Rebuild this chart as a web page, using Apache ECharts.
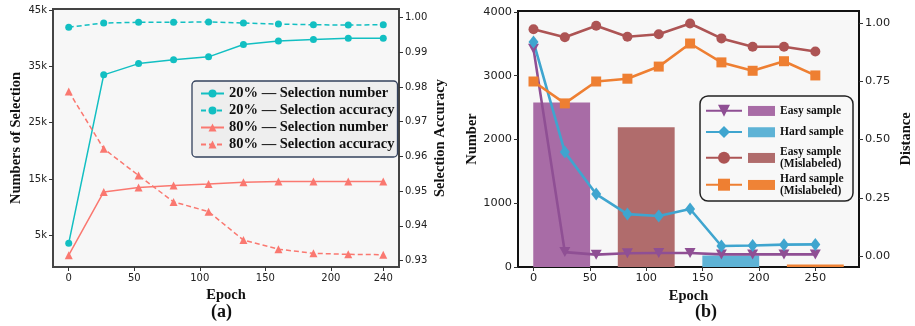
<!DOCTYPE html>
<html>
<head>
<meta charset="utf-8">
<script src="https://cdn.jsdelivr.net/npm/echarts@6/dist/echarts.min.js"></script>
<style>
    html, body { margin: 0; padding: 0; background: #fff; }
    #main { width: 915px; height: 326px; }
</style>
</head>
<body>
<div id="main"></div>
<script>
// (a) selection number / accuracy over epochs
var epochsA = [0, 26.7, 53.3, 80, 106.7, 133.3, 160, 186.7, 213.3, 240];
var num20 = [3600, 33500, 35500, 36200, 36700, 38900, 39500, 39800, 40000, 40000];
var acc20 = [0.9972, 0.9984, 0.9986, 0.9986, 0.9987, 0.9984, 0.9981, 0.9979, 0.9978, 0.9979];
var num80 = [1450, 12700, 13500, 13850, 14100, 14400, 14550, 14550, 14550, 14550];
var acc80 = [0.9787, 0.9622, 0.9545, 0.9469, 0.9441, 0.9359, 0.9333, 0.9321, 0.9318, 0.9317];
var xTicksA = [0, 50, 100, 150, 200, 240];
var yTicksA = [5000, 15000, 25000, 35000, 45000];
var accTicksA = [0.93, 0.94, 0.95, 0.96, 0.97, 0.98, 0.99, 1.00];

// (b) distance lines and sample count bars
var epochsB = [0, 27.8, 55.6, 83.3, 111.1, 138.9, 166.7, 194.4, 222.2, 250];
var distEasy = [0.889, 0.017, 0.006, 0.012, 0.013, 0.013, 0.007, 0.007, 0.007, 0.007];
var distHard = [0.919, 0.446, 0.266, 0.180, 0.172, 0.202, 0.043, 0.045, 0.049, 0.050];
var distEasyMis = [0.973, 0.939, 0.988, 0.941, 0.952, 0.998, 0.934, 0.898, 0.898, 0.878];
var distHardMis = [0.749, 0.655, 0.749, 0.761, 0.813, 0.912, 0.831, 0.795, 0.836, 0.775];
var barCenters = [25, 100, 175, 250];
var barCounts = [2580, 2190, 180, 40];
var xTicksB = [0, 50, 100, 150, 200, 250];
var yTicksB = [0, 1000, 2000, 3000, 4000];
var distTicksB = [0, 0.25, 0.5, 0.75, 1.0];

var serif = 'Liberation Serif';
var sans = 'DejaVu Sans';

function pairs(xs, ys) {
    return xs.map(function(x, i) { return [x, ys[i]]; });
}

var chart = echarts.init(document.getElementById('main'));

var cyan = '#12bfc2';
var salmon = '#fa7870';
var cPurple = '#8f4f94', cBlue = '#3fa5cf', cBrown = '#ad5454', cOrange = '#ee7f32';
var barColors = ['#a86ca6', '#b06c6c', '#5eb3d6', '#ef8336'];

var gridB = { left: 518, top: 11, width: 344, height: 256 };
var xMinB = -13.75, xMaxB = 288.75;
var barW = gridB.width * 50 / (xMaxB - xMinB);

var titleFont = { fontFamily: serif, fontWeight: 'bold', fontSize: 14.5, color: '#111' };

function valueAxis(extra) {
    var ax = {
        type: 'value',
        axisLine: { show: false, onZero: false },
        splitLine: { show: false },
        axisTick: { inside: false, length: 4, lineStyle: { color: '#333' } },
        axisLabel: { color: '#222', fontFamily: sans, fontSize: 10, margin: 6,
            formatter: function(v) { return String(v); } },
        nameLocation: 'middle',
        nameTextStyle: titleFont
    };
    for (var k in extra) {
        if (k === 'ticks') {
            ax.axisTick.customValues = extra.ticks;
            ax.axisLabel.customValues = extra.ticks;
        } else if (k === 'formatter' || k === 'fontSize' || k === 'margin') {
            ax.axisLabel[k] = extra[k];
        } else {
            ax[k] = extra[k];
        }
    }
    return ax;
}

var seriesA = [
    { name: '20% — Selection number', data: pairs(epochsA, num20), yAxisIndex: 0, color: cyan, symbol: 'circle', symbolSize: 7, dash: 'solid' },
    { name: '20% — Selection accuracy', data: pairs(epochsA, acc20), yAxisIndex: 1, color: cyan, symbol: 'circle', symbolSize: 7, dash: [5, 3] },
    { name: '80% — Selection number', data: pairs(epochsA, num80), yAxisIndex: 0, color: salmon, symbol: 'triangle', symbolSize: 8, dash: 'solid' },
    { name: '80% — Selection accuracy', data: pairs(epochsA, acc80), yAxisIndex: 1, color: salmon, symbol: 'triangle', symbolSize: 8, dash: [5, 3] }
].map(function(s) {
    return {
        name: s.name,
        type: 'line',
        xAxisIndex: 0,
        yAxisIndex: s.yAxisIndex,
        data: s.data,
        symbol: s.symbol,
        symbolSize: s.symbolSize,
        showSymbol: true,
        itemStyle: { color: s.color },
        lineStyle: { color: s.color, width: 1.5, type: s.dash },
        z: 3
    };
});

var barNames = ['Easy sample', 'Hard sample', 'Easy sample\n(Mislabeled)', 'Hard sample\n(Mislabeled)'];
var seriesBars = [0, 1, 2, 3].map(function(i) {
    // bars are centered at their epoch value; order matches colors
    var nameIdx = [0, 2, 1, 3][i];
    return {
        name: barNames[nameIdx],
        type: 'bar',
        xAxisIndex: 1,
        yAxisIndex: 2,
        data: [[barCenters[i], barCounts[i]]],
        barWidth: barW,
        barGap: '-100%',
        itemStyle: { color: barColors[i] },
        z: 2
    };
});

var lineDefsB = [
    { name: 'Easy sample line', data: distEasy, color: cPurple, symbol: 'triangle', size: [11, 10], rotate: 180 },
    { name: 'Hard sample line', data: distHard, color: cBlue, symbol: 'diamond', size: [10, 13], rotate: 0 },
    { name: 'Easy mislabeled line', data: distEasyMis, color: cBrown, symbol: 'circle', size: 10, rotate: 0 },
    { name: 'Hard mislabeled line', data: distHardMis, color: cOrange, symbol: 'rect', size: 10, rotate: 0 }
];
var seriesLinesB = lineDefsB.map(function(s) {
    return {
        name: s.name,
        type: 'line',
        xAxisIndex: 1,
        yAxisIndex: 3,
        data: pairs(epochsB, s.data),
        symbol: s.symbol,
        symbolSize: s.size,
        symbolRotate: s.rotate,
        itemStyle: { color: s.color },
        lineStyle: { color: s.color, width: 2.6 },
        z: 3
    };
});

// legend rows of (b): centre y of each row, two-line label or not
var rowCentersB = [110.7, 132, 157.7, 184.7];
var rowTwoLine = [false, false, true, true];
var legendsB = [];
rowCentersB.forEach(function(c, i) {
    legendsB.push({
        left: 705, top: c - 7.5, padding: 0,
        itemWidth: 36, itemHeight: 15,
        selectedMode: false,
        formatter: function() { return ''; },
        data: [lineDefsB[i].name]
    });
    legendsB.push({
        left: 748, top: rowTwoLine[i] ? c - 11.5 : c - 5.75, padding: 0,
        itemWidth: 27, itemHeight: 10,
        icon: 'rect',
        selectedMode: false,
        textStyle: { fontFamily: serif, fontWeight: 'bold', fontSize: 11.5, lineHeight: 11.5, color: '#111' },
        data: [barNames[i]]
    });
});

var option = {
    animation: false,
    backgroundColor: '#fff',
    title: [
        { text: '(a)', left: 211, top: 303, padding: 0, textStyle: { fontFamily: serif, fontWeight: 'bold', fontSize: 18, color: '#111' } },
        { text: '(b)', left: 695, top: 303, padding: 0, textStyle: { fontFamily: serif, fontWeight: 'bold', fontSize: 18, color: '#111' } }
    ],
    grid: [
        { left: 53, top: 9, width: 346, height: 258, show: true, backgroundColor: '#f7f7f7', borderColor: '#444', borderWidth: 2 },
        { left: gridB.left, top: gridB.top, width: gridB.width, height: gridB.height, show: true, backgroundColor: '#f7f7f7', borderColor: '#111', borderWidth: 2 }
    ],
    xAxis: [
        valueAxis({ gridIndex: 0, min: -12, max: 252, ticks: xTicksA, name: 'Epoch', nameGap: 18 }),
        valueAxis({ gridIndex: 1, min: xMinB, max: xMaxB, ticks: xTicksB, fontSize: 11.3, name: 'Epoch', nameGap: 18 })
    ],
    yAxis: [
        valueAxis({ gridIndex: 0, min: -640, max: 45200, ticks: yTicksA, name: 'Numbers of Selection', nameGap: 29,
            formatter: function(v) { return (v / 1000) + 'k'; } }),
        valueAxis({ gridIndex: 0, position: 'right', min: 0.92816, max: 1.00243, ticks: accTicksA, name: 'Selection Accuracy', nameGap: 34,
            formatter: function(v) { return v.toFixed(2); } }),
        valueAxis({ gridIndex: 1, min: 0, max: 4015, ticks: yTicksB, fontSize: 11.3, name: 'Number', nameGap: 31 }),
        valueAxis({ gridIndex: 1, position: 'right', min: -0.047, max: 1.0515, ticks: distTicksB, fontSize: 11.3, name: 'Distance', nameGap: 40,
            formatter: function(v) { return v.toFixed(2); } })
    ],
    legend: [{
        left: 192, top: 81,
        orient: 'vertical',
        padding: [5, 3, 5, 8],
        itemWidth: 23, itemHeight: 10, itemGap: 2,
        selectedMode: false,
        backgroundColor: 'rgba(236,236,236,0.9)',
        borderColor: '#33415c', borderWidth: 1.3, borderRadius: 4,
        textStyle: { fontFamily: serif, fontWeight: 'bold', fontSize: 14.5, lineHeight: 14, color: '#111' },
        data: seriesA.map(function(s) { return s.name; })
    }].concat(legendsB),
    graphic: [{
        type: 'rect',
        z: 3,
        shape: { x: 700, y: 96, width: 153, height: 105, r: 8 },
        style: { fill: 'rgba(248,248,248,0.85)', stroke: '#222', lineWidth: 1.5 }
    }],
    series: seriesA.concat(seriesBars, seriesLinesB)
};

chart.setOption(option);
</script>
</body>
</html>
